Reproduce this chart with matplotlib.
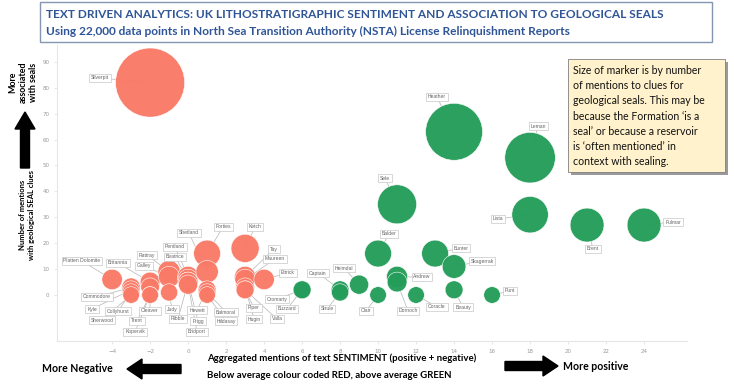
import matplotlib.pyplot as plt
from matplotlib.patches import Rectangle, FancyArrow

# formation, sentiment (x), mentions of seal clues (y)
names = ['Silverpit', 'Platten Dolomite', 'Commodore', 'Kyle', 'Collyhurst', 'Sherwood',
         'Britannia', 'Cleaver', 'Trent', 'Kopervik', 'Rattray', 'Galley', 'Judy',
         'Pentland', 'Beatrice', 'Ribble', 'Frigg', 'Bridport',
         'Forties', 'Shetland', 'Hewett', 'Balmoral', 'Hildasay',
         'Ketch', 'Tay', 'Maureen', 'Hugin', 'Piper', 'Valla', 'Ettrick',
         'Cromarty', 'Buzzard', 'Captain', 'Strule', 'Heimdal', 'Clair', 'Balder',
         'Sele', 'Andrew', 'Dornoch', 'Coracle', 'Bunter', 'Skagerrak', 'Beauty',
         'Heather', 'Punt', 'Leman', 'Lista', 'Brent', 'Fulmar']
sentiment = [-2, -4, -3, -3, -3, -3,
             -2, -2, -2, -2, -1, -1, -1,
             0, 0, 0, 0, 0,
             1, 1, 1, 1, 1,
             3, 3, 3, 3, 3, 3, 4,
             6, 6, 8, 8, 9, 10, 10,
             11, 11, 11, 12, 13, 14, 14,
             14, 16, 18, 18, 21, 24]
mentions = [82, 6, 3, 2, 1, 0,
            5, 3, 0, 0, 9, 7, 1,
            7, 6, 5, 5, 4,
            16, 9, 2, 1, 0,
            18, 7, 6, 3, 2, 2, 6,
            2, 2, 2, 1, 4, 0, 16,
            35, 7, 5, 0, 16, 11, 2,
            63, 0, 53, 31, 27, 27]
average_sentiment = 5

# label box positions (image pixels)
label_pos = {
    'Silverpit': (100, 78), 'Platten Dolomite': (82, 261), 'Commodore': (97, 297),
    'Kyle': (92, 309), 'Collyhurst': (118, 311), 'Sherwood': (102, 320),
    'Britannia': (118, 263), 'Cleaver': (150, 311), 'Trent': (137, 321),
    'Kopervik': (135, 332), 'Rattray': (147, 255), 'Galley': (144, 266),
    'Judy': (172, 309), 'Pentland': (175, 247), 'Beatrice': (175, 257),
    'Ribble': (178, 319), 'Frigg': (198, 321), 'Bridport': (197, 332),
    'Forties': (223, 227), 'Shetland': (189, 233), 'Hewett': (197, 310),
    'Balmoral': (226, 312), 'Hildasay': (226, 321), 'Ketch': (255, 227),
    'Tay': (274, 249), 'Maureen': (275, 259), 'Hugin': (254, 319),
    'Piper': (254, 308), 'Valla': (277, 319), 'Ettrick': (288, 273),
    'Cromarty': (277, 299), 'Buzzard': (287, 309), 'Captain': (318, 273),
    'Strule': (327, 309), 'Heimdal': (344, 268), 'Clair': (366, 311),
    'Balder': (389, 234), 'Sele': (385, 178), 'Andrew': (422, 277),
    'Dornoch': (408, 311), 'Coracle': (437, 307), 'Bunter': (461, 248),
    'Skagerrak': (482, 261), 'Beauty': (463, 307), 'Heather': (437, 97),
    'Punt': (510, 291), 'Leman': (538, 126), 'Lista': (498, 219),
    'Brent': (593, 249), 'Fulmar': (673, 222),
}

W, H = 734, 389
fig = plt.figure(figsize=(W / 100, H / 100), dpi=100)
ax = fig.add_axes([57 / W, 1 - 341 / H, 630 / W, 296 / H])


def fxy(x, y):
    return x / W, 1 - y / H


def inch(x, y):
    return x / 100, (H - y) / 100


red, green = '#F97A66', '#249D5A'
colors = [red if s < average_sentiment else green for s in sentiment]
radius_px = [8.3 + 0.32 * m for m in mentions]
sizes = [(2 * r * 0.72) ** 2 for r in radius_px]
ax.scatter(sentiment, mentions, s=sizes, c=colors, edgecolors='white',
           linewidths=0.4, alpha=0.97, zorder=2)

for n, s, m in zip(names, sentiment, mentions):
    lx, ly = fxy(*label_pos[n])
    ax.annotate('', xy=(s, m), xycoords='data', xytext=(lx, ly),
                textcoords='figure fraction',
                arrowprops=dict(arrowstyle='-', color='#b5b5b5', lw=0.5,
                                shrinkA=0, shrinkB=0), zorder=1)
    fig.text(lx, ly, n, fontsize=3.6, family='Liberation Sans', color='#666666',
             ha='center', va='center', zorder=5,
             bbox=dict(boxstyle='square,pad=0.35', fc='white', ec='#c8c8c8', lw=0.5))

ax.set_xlim(-6.9, 26.26)
ax.set_ylim(-17.76, 96.5)
ax.set_xticks(range(-4, 25, 2))
ax.set_yticks(range(0, 91, 10))
ax.tick_params(labelsize=4, labelcolor='#999999', color='#dddddd', length=2, width=0.5)
for sp in ['top', 'right']:
    ax.spines[sp].set_visible(False)
for sp in ['left', 'bottom']:
    ax.spines[sp].set_color('#e6e6e6')
    ax.spines[sp].set_linewidth(0.8)

# title box
fig.add_artist(Rectangle(fxy(40, 42), 672 / W, 40 / H, transform=fig.transFigure,
                         fc='white', ec='#8496B0', lw=1.0, zorder=4))
fig.text(*fxy(46, 14), 'TEXT DRIVEN ANALYTICS: UK LITHOSTRATIGRAPHIC SENTIMENT AND ASSOCIATION TO GEOLOGICAL SEALS',
         fontsize=8.6, fontweight='bold', family='Lato', color='#2F5597', va='center', ha='left', zorder=5)
fig.text(*fxy(46, 31), 'Using 22,000 data points in North Sea Transition Authority (NSTA) License Relinquishment Reports',
         fontsize=8.6, fontweight='bold', family='Lato', color='#2F5597', va='center', ha='left', zorder=5)

# note box
fig.add_artist(Rectangle(fxy(571, 175), 157 / W, 113 / H, transform=fig.transFigure,
                         fc='#9a9a9a', ec='none', zorder=4))
fig.add_artist(Rectangle(fxy(568, 172), 157 / W, 113 / H, transform=fig.transFigure,
                         fc='#FFF2CC', ec='#7f7f7f', lw=0.6, zorder=4))
fig.text(*fxy(573, 116), 'Size of marker is by number\nof mentions to clues for\ngeological seals. This may be\n'
         'because the Formation \u2018is a\nseal\u2019 or because a reservoir\nis \u2018often mentioned\u2019 in\n'
         'context with sealing.',
         fontsize=7.6, family='Lato', color='#111111', va='center', ha='left', linespacing=1.45, zorder=5)

# y-axis annotations
fig.text(*fxy(27, 215), 'Number of mentions\nwith geological SEAL clues', rotation=90, fontsize=5.5,
         fontweight='bold', family='Lato', ha='center', va='center', linespacing=1.25)
fig.text(*fxy(23, 82), 'More\nassociated\nwith seals', rotation=90, fontsize=6.4,
         fontweight='bold', family='Lato', ha='center', va='center', linespacing=1.15)
x0, y0 = inch(25, 168)
x1, y1 = inch(25, 112)
fig.add_artist(FancyArrow(x0, y0, 0, y1 - y0, width=0.09, head_width=0.2, head_length=0.17,
                          length_includes_head=True, transform=fig.dpi_scale_trans,
                          fc='black', ec='black'))

# x-axis annotations
fig.text(*fxy(207, 358), 'Aggregated mentions of text SENTIMENT (positive + negative)', fontsize=6.9,
         fontweight='bold', family='Lato', ha='left', va='center')
fig.text(*fxy(207, 376), 'Below average colour coded RED, above average GREEN', fontsize=6.9,
         fontweight='bold', family='Lato', ha='left', va='center')
fig.text(*fxy(42, 369), 'More Negative', fontsize=7.6, fontweight='bold', family='Lato',
         ha='left', va='center')
fig.text(*fxy(563, 366), 'More positive', fontsize=7.6, fontweight='bold', family='Lato',
         ha='left', va='center')
x0, y0 = inch(181, 369)
x1, y1 = inch(127, 369)
fig.add_artist(FancyArrow(x0, y0, x1 - x0, 0, width=0.09, head_width=0.2, head_length=0.15,
                          length_includes_head=True, transform=fig.dpi_scale_trans,
                          fc='black', ec='black'))
x0, y0 = inch(505, 366)
x1, y1 = inch(558, 366)
fig.add_artist(FancyArrow(x0, y0, x1 - x0, 0, width=0.09, head_width=0.2, head_length=0.15,
                          length_includes_head=True, transform=fig.dpi_scale_trans,
                          fc='black', ec='black'))

fig.savefig('out.png', dpi=100)
